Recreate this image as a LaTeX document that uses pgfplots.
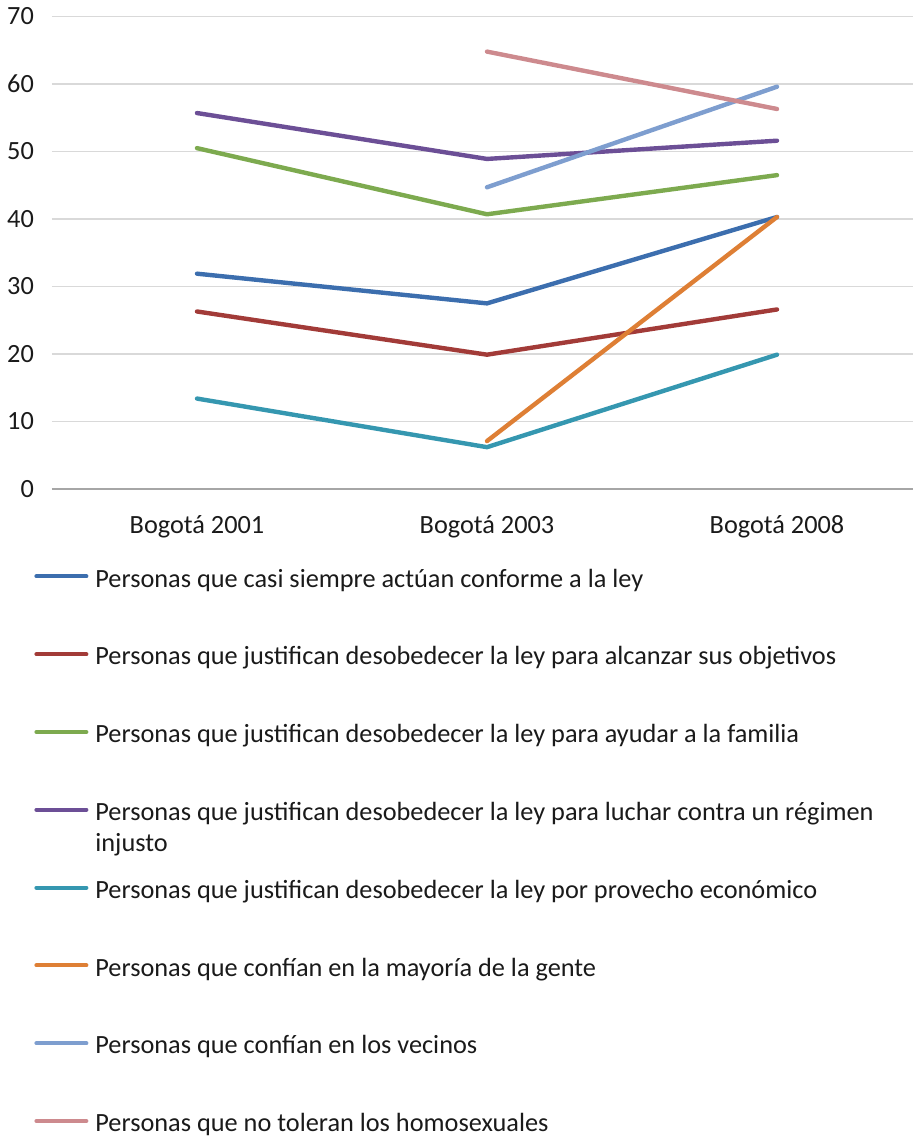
\documentclass[border=0pt]{standalone}
\usepackage{pgfplots}
\pgfplotsset{compat=1.18}
\usepackage{fontspec}
\setmainfont{Carlito}
\definecolor{cBlue}{HTML}{3C6EAE}
\definecolor{cRed}{HTML}{A23B38}
\definecolor{cGreen}{HTML}{7DAA4F}
\definecolor{cPurple}{HTML}{6C4F96}
\definecolor{cTeal}{HTML}{3597B0}
\definecolor{cOrange}{HTML}{DE7F35}
\definecolor{cLBlue}{HTML}{7E9ECF}
\definecolor{cPink}{HTML}{CD8A8E}
\definecolor{cGrid}{HTML}{D9D9D9}
\definecolor{cAxis}{HTML}{A6A6A6}
\definecolor{cText}{HTML}{1A1A1A}
\begin{document}
\fontsize{13.15pt}{15pt}\selectfont
\begin{tikzpicture}
\begin{axis}[
  scale only axis,
  width=430.5pt, height=236.25pt,
  xmin=-0.5, xmax=2.469,
  ymin=0, ymax=70,
  ytick={0,10,...,70},
  xtick={0,1,2},
  xticklabels={Bogotá 2001,Bogotá 2003,Bogotá 2008},
  /pgf/number format/assume math mode=true,
  tick label style={font=\fontsize{13.15pt}{15pt}\selectfont, text=cText},
  yticklabel style={xshift=-4.5pt},
  xticklabel style={yshift=-8.5pt},
  major tick length=0pt,
  ymajorgrids,
  grid style={cGrid, line width=0.75pt},
  axis line style={draw=none},
  axis x line*=bottom,
  axis y line*=left,
  clip=false,
  every axis plot/.append style={line width=2.2pt, line cap=round, line join=round},
  legend image code/.code={\draw[#1, line width=2pt] (1pt,2.8pt) -- (26pt,2.8pt); \path[draw=none] (0pt,0pt) -- (30.5pt,0pt);},
  legend cell align=left,
  legend style={
    at={(axis description cs:0,0)}, anchor=north west,
    xshift=-9pt, yshift=-40.8pt,
    draw=none, fill=none, inner sep=0pt,
    row sep=27.9pt, column sep=0pt,
    font=\fontsize{13.15pt}{15pt}\selectfont,
    text=cText,
    nodes={inner sep=0pt, text height=8pt, text depth=3pt},
  },
]
\draw[cAxis, line width=0.75pt] (axis cs:-0.5,0) -- (axis cs:2.469,0);
\addplot[cBlue] coordinates {(0,31.9) (1,27.5) (2,40.3)};
\addlegendentry{Personas que casi siempre actúan conforme a la ley}
\addplot[cRed] coordinates {(0,26.3) (1,19.9) (2,26.6)};
\addlegendentry{Personas que justifican desobedecer la ley para alcanzar sus objetivos}
\addplot[cGreen] coordinates {(0,50.5) (1,40.7) (2,46.5)};
\addlegendentry{Personas que justifican desobedecer la ley para ayudar a la familia}
\addplot[cPurple] coordinates {(0,55.7) (1,48.9) (2,51.6)};
\addlegendentry{\rlap{\raisebox{-15.5pt}[0pt][0pt]{injusto}}Personas que justifican desobedecer la ley para luchar contra un régimen}
\addplot[cTeal] coordinates {(0,13.4) (1,6.2) (2,19.9)};
\addlegendentry{Personas que justifican desobedecer la ley por provecho económico}
\addplot[cOrange] coordinates {(1,7.1) (2,40.3)};
\addlegendentry{Personas que confían en la mayoría de la gente}
\addplot[cLBlue] coordinates {(1,44.7) (2,59.6)};
\addlegendentry{Personas que confían en los vecinos}
\addplot[cPink] coordinates {(1,64.8) (2,56.3)};
\addlegendentry{Personas que no toleran los homosexuales}
\end{axis}
\pgfresetboundingbox
\path (-26pt,-325.5pt) rectangle (430.5pt,244.5pt);
\end{tikzpicture}
\end{document}
